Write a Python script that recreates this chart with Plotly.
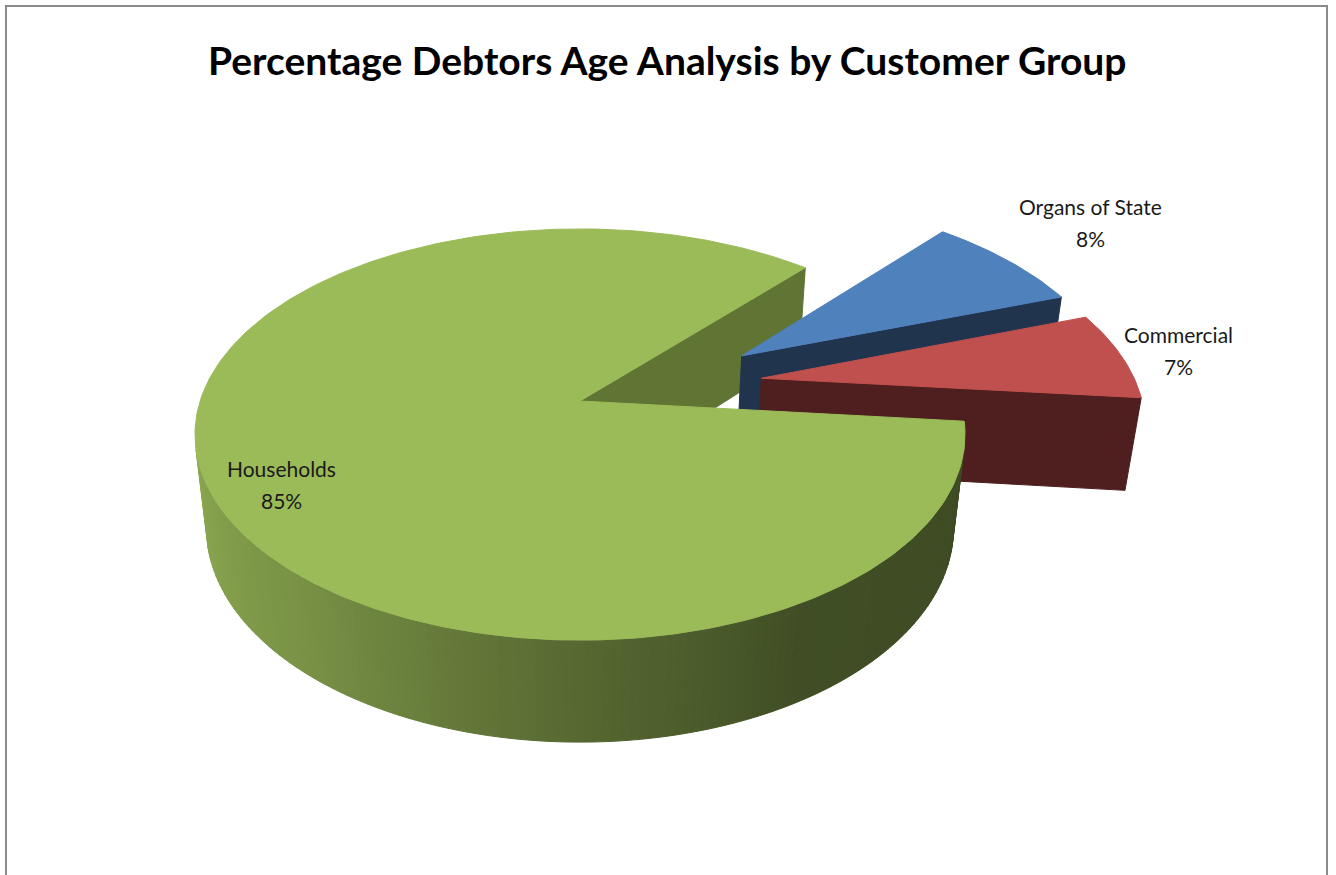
import numpy as np
import plotly.graph_objects as go

# ---------------- data ----------------
categories = ["Households", "Organs of State", "Commercial"]
shares = [85, 8, 7]
title_text = "Percentage Debtors Age Analysis by Customer Group"

# ---------------- style ----------------
top_colors = ["#9BBB59", "#4F81BD", "#C0504D"]
radial_colors = ["#607433", "#20344E", "#4F1F1F"]
explode = [0.0, 0.5, 0.5]
explode_turn = [0.0, -6.0, 6.5]          # degrees the pull-out direction is turned
label_pos = [(281, 468), (1090, 206), (1178, 334)]   # centre of the name line
LINE_GAP = 32

W, H = 1336, 875
ELEV = np.radians(31.8)
COS_E, SIN_E = np.cos(ELEV), np.sin(ELEV)
DIST = 5.215
FOCAL = 1981.0
CX, CY = 580.0, 401.0
THICK = 0.296
START_DEG = 354.3
CAM = np.array([0.0, -DIST * COS_E, DIST * SIN_E])

LABEL_FONT = "Lato, Roboto, sans-serif"


def project(u, v, z):
    u = np.asarray(u, float)
    v = np.asarray(v, float)
    z = np.asarray(z, float)
    depth = DIST + v * COS_E - z * SIN_E
    return CX + FOCAL * u / depth, CY - FOCAL * (v * SIN_E + z * COS_E) / depth


def depth_of(u, v, z):
    return DIST + v * COS_E - z * SIN_E


def facing(point, normal):
    return float(np.dot(np.asarray(point, float) - CAM, np.asarray(normal, float))) < 0


def hex_rgb(h):
    h = h.lstrip("#")
    return np.array([int(h[i:i + 2], 16) for i in (0, 2, 4)], float)


def shade(hexcol, f):
    r, g, b = np.clip(hex_rgb(hexcol) * f, 0, 255).astype(int)
    return f"rgb({r},{g},{b})"


def wall_factor(theta_deg):
    t = theta_deg % 360
    return np.interp(t, [180, 193, 230, 270, 300, 360], [0.92, 0.90, 0.78, 0.56, 0.42, 0.40])


fig = go.Figure()


def add_poly(xs, ys, col):
    fig.add_trace(go.Scatter(
        x=list(xs) + [xs[0]], y=list(ys) + [ys[0]], mode="lines", fill="toself",
        fillcolor=col, line=dict(color=col, width=1), hoverinfo="skip", showlegend=False))


total = float(sum(shares))
slices = []
cum = 0.0
for i, (cat, val) in enumerate(zip(categories, shares)):
    a0 = START_DEG - 360.0 * cum / total
    a1 = a0 - 360.0 * val / total
    cum += val
    mid = np.radians((a0 + a1) / 2 + explode_turn[i])
    ox, oy = explode[i] * np.cos(mid), explode[i] * np.sin(mid)
    slices.append(dict(i=i, a0=a0, a1=a1, ox=ox, oy=oy))


def radial_faces(sl):
    faces = []
    for ang, sign in ((sl["a1"], 1), (sl["a0"], -1)):
        t = np.radians(ang)
        normal = np.array([sign * np.sin(t), -sign * np.cos(t), 0.0])
        ox, oy = sl["ox"], sl["oy"]
        rx, ry = ox + np.cos(t), oy + np.sin(t)
        centre = [(ox + rx) / 2, (oy + ry) / 2, -THICK / 2]
        if facing(centre, normal):
            us = [ox, rx, rx, ox]
            vs = [oy, ry, ry, oy]
            zs = [0, 0, -THICK, -THICK]
            X, Y = project(us, vs, zs)
            faces.append((X, Y, radial_colors[sl["i"]]))
    return faces


def wall_faces(sl):
    faces = []
    lo, hi = sl["a1"], sl["a0"]
    n = max(2, int((hi - lo) / 1.2))
    edges = np.linspace(lo, hi, n + 1)
    ox, oy = sl["ox"], sl["oy"]
    for k in range(n):
        ta, tb = np.radians(edges[k]), np.radians(edges[k + 1])
        tm = (ta + tb) / 2
        normal = [np.cos(tm), np.sin(tm), 0.0]
        centre = [ox + np.cos(tm), oy + np.sin(tm), -THICK / 2]
        if facing(centre, normal):
            us = [ox + np.cos(ta), ox + np.cos(tb), ox + np.cos(tb), ox + np.cos(ta)]
            vs = [oy + np.sin(ta), oy + np.sin(tb), oy + np.sin(tb), oy + np.sin(ta)]
            zs = [0, 0, -THICK, -THICK]
            X, Y = project(us, vs, zs)
            col = shade(top_colors[sl["i"]], wall_factor(np.degrees(tm)))
            faces.append((depth_of(*centre), X, Y, col))
    faces.sort(key=lambda f: -f[0])
    return [(f[1], f[2], f[3]) for f in faces]


def top_face(sl):
    ts = np.radians(np.linspace(sl["a1"], sl["a0"], max(3, int(sl["a0"] - sl["a1"]) + 2)))
    us = np.concatenate([[sl["ox"]], sl["ox"] + np.cos(ts)])
    vs = np.concatenate([[sl["oy"]], sl["oy"] + np.sin(ts)])
    X, Y = project(us, vs, np.zeros_like(us))
    return X, Y, top_colors[sl["i"]]


base = [s for s in slices if explode[s["i"]] == 0]
popped = [s for s in slices if explode[s["i"]] > 0]
popped.sort(key=lambda s: -depth_of(s["ox"], s["oy"], 0))

for s in base:
    for X, Y, col in radial_faces(s):
        add_poly(X, Y, col)
for s in popped:
    for X, Y, col in radial_faces(s) + wall_faces(s):
        add_poly(X, Y, col)
    add_poly(*top_face(s))
for s in base:
    for X, Y, col in wall_faces(s):
        add_poly(X, Y, col)
    add_poly(*top_face(s))

annotations = []
for i, cat in enumerate(categories):
    lx, ly = label_pos[i]
    annotations.append(dict(x=lx, y=ly, text=cat, showarrow=False, xref="x", yref="y",
                            xanchor="center", yanchor="middle",
                            font=dict(family=LABEL_FONT, size=21, color="#1a1a1a")))
    annotations.append(dict(x=lx, y=ly + LINE_GAP, text=f"{shares[i]}%", showarrow=False,
                            xref="x", yref="y", xanchor="center", yanchor="middle",
                            font=dict(family=LABEL_FONT, size=21, color="#1a1a1a")))
annotations.append(dict(x=667, y=60, text=f"<b>{title_text}</b>", showarrow=False,
                        xref="x", yref="y", xanchor="center", yanchor="middle",
                        font=dict(family=LABEL_FONT, size=39, color="#000000")))

fig.update_layout(
    width=W, height=H, margin=dict(l=0, r=0, t=0, b=0),
    paper_bgcolor="white", plot_bgcolor="white",
    xaxis=dict(range=[0, W], visible=False, fixedrange=True),
    yaxis=dict(range=[H, 0], visible=False, fixedrange=True),
    annotations=annotations,
    shapes=[dict(type="rect", xref="x", yref="y", x0=6, y0=6, x1=1327, y1=900,
                 line=dict(color="#8a8a8a", width=2), fillcolor="rgba(0,0,0,0)", layer="below")],
)

fig.write_html("out.html")
